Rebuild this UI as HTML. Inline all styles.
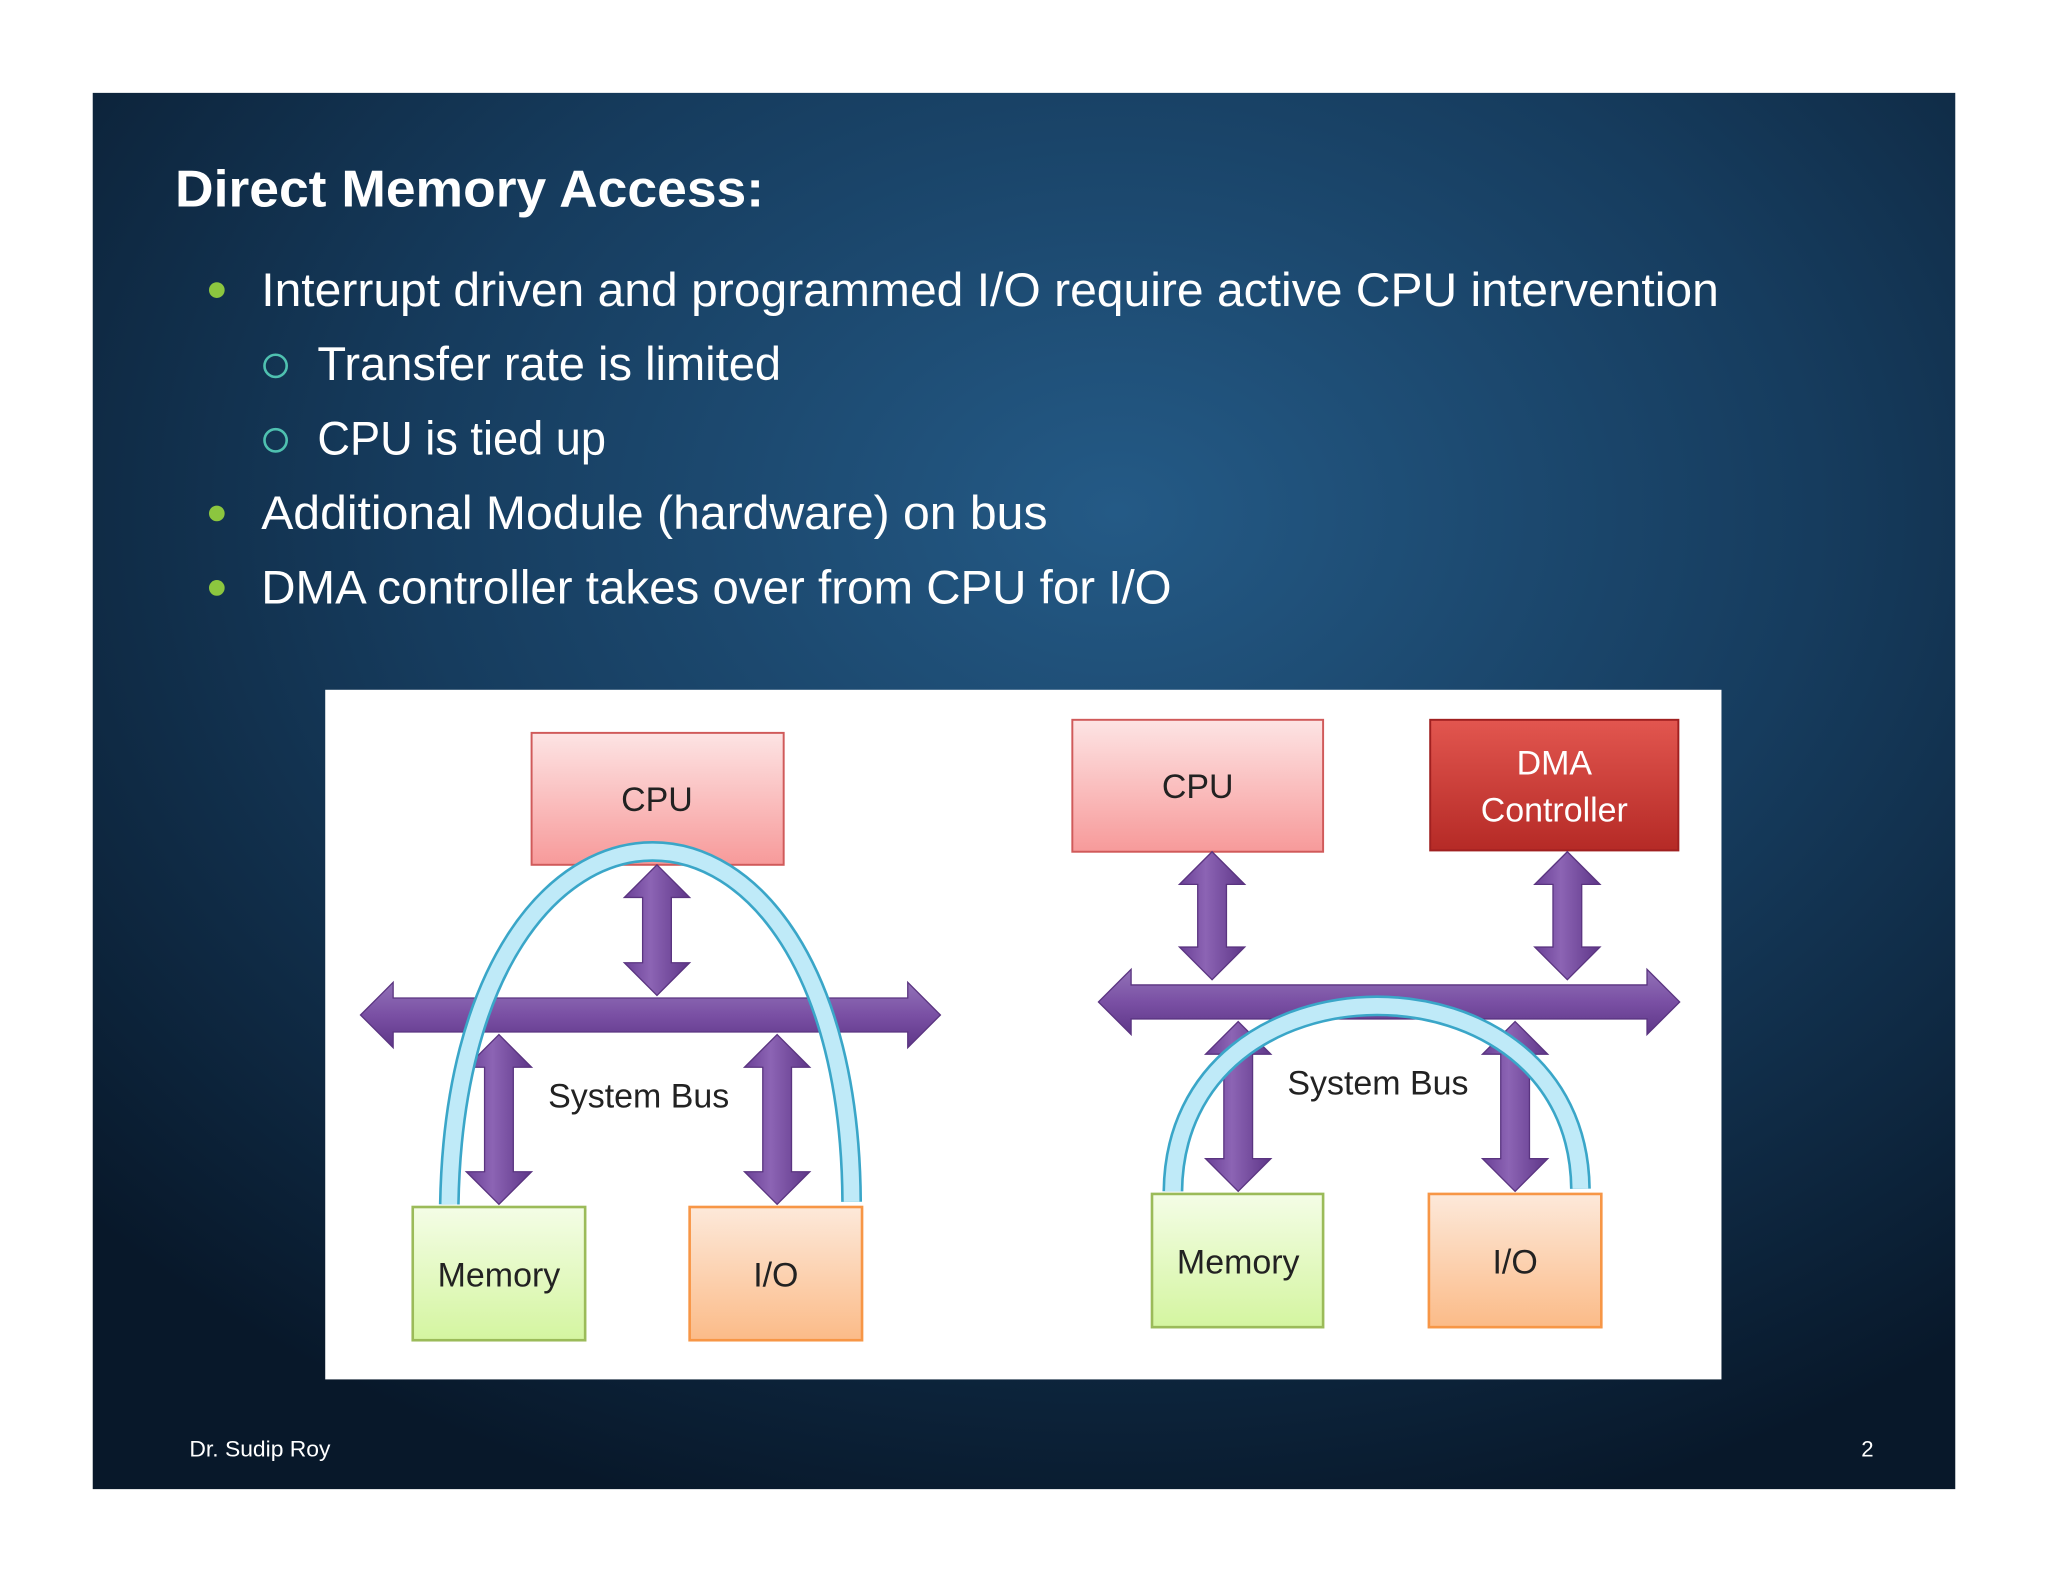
<!DOCTYPE html>
<html><head><meta charset="utf-8"><style>html,body{margin:0;padding:0;background:#fff}svg{display:block}</style></head>
<body>
<svg width="2048" height="1582" viewBox="0 0 1568 1211" xmlns="http://www.w3.org/2000/svg" font-family="'Liberation Sans', sans-serif">
<defs>
<radialGradient id="bg" cx="0.55" cy="0.3" r="0.75">
<stop offset="0" stop-color="#245a86"/><stop offset="0.5" stop-color="#163c5e"/><stop offset="1" stop-color="#08182a"/></radialGradient>
<linearGradient id="pink" x1="0" y1="0" x2="0" y2="1"><stop offset="0" stop-color="#fde4e4"/><stop offset="1" stop-color="#f79a9a"/></linearGradient>
<linearGradient id="red" x1="0" y1="0" x2="0" y2="1"><stop offset="0" stop-color="#e2564f"/><stop offset="1" stop-color="#b52a26"/></linearGradient>
<linearGradient id="green" x1="0" y1="0" x2="0" y2="1"><stop offset="0" stop-color="#f4fde6"/><stop offset="1" stop-color="#d4f5a0"/></linearGradient>
<linearGradient id="orange" x1="0" y1="0" x2="0" y2="1"><stop offset="0" stop-color="#fde9da"/><stop offset="1" stop-color="#fbbb88"/></linearGradient>
<linearGradient id="pv" x1="0" y1="0" x2="1" y2="0"><stop offset="0" stop-color="#6a4096"/><stop offset="0.4" stop-color="#8c64b4"/><stop offset="1" stop-color="#5e3688"/></linearGradient>
<linearGradient id="ph" x1="0" y1="0" x2="0" y2="1"><stop offset="0" stop-color="#9272b8"/><stop offset="0.5" stop-color="#7a50a4"/><stop offset="1" stop-color="#5e3688"/></linearGradient>
</defs>
<rect x="71" y="71" width="1426" height="1069" fill="url(#bg)"/>
<text x="134" y="158" font-size="40" font-weight="bold" fill="#fff" textLength="451" lengthAdjust="spacingAndGlyphs">Direct Memory Access:</text>
<g fill="#8cc63f"><circle cx="166" cy="222" r="6"/><circle cx="166" cy="393" r="6"/><circle cx="166" cy="450" r="6"/></g>
<g fill="none" stroke="#4fc1b0" stroke-width="2"><circle cx="211" cy="280" r="8.5"/><circle cx="211" cy="337" r="8.5"/></g>
<g fill="#fff" font-size="36">
<text x="200" y="234" textLength="1116" lengthAdjust="spacingAndGlyphs">Interrupt driven and programmed I/O require active CPU intervention</text>
<text x="243" y="291" textLength="355" lengthAdjust="spacingAndGlyphs">Transfer rate is limited</text>
<text x="243" y="348" textLength="221" lengthAdjust="spacingAndGlyphs">CPU is tied up</text>
<text x="200" y="405" textLength="602" lengthAdjust="spacingAndGlyphs">Additional Module (hardware) on bus</text>
<text x="200" y="462" textLength="697" lengthAdjust="spacingAndGlyphs">DMA controller takes over from CPU for I/O</text>
</g>
<text x="145" y="1115" font-size="17" fill="#fff" textLength="108" lengthAdjust="spacingAndGlyphs">Dr. Sudip Roy</text>
<text x="1425" y="1115" font-size="17" fill="#fff">2</text>
<rect x="249" y="528" width="1069" height="528" fill="#fff"/>
<!-- left -->
<rect x="407" y="561" width="193" height="101" fill="url(#pink)" stroke="#d05a5a" stroke-width="1.5"/>
<rect x="316" y="924" width="132" height="102" fill="url(#green)" stroke="#9bbb59" stroke-width="2"/>
<rect x="528" y="924" width="132" height="102" fill="url(#orange)" stroke="#f79646" stroke-width="2"/>
<g stroke="#5a3480" stroke-width="1">
<polygon fill="url(#pv)" points="503,662 528,687 514,687 514,737 528,737 503,762 478,737 492,737 492,687 478,687"/>
<polygon fill="url(#ph)" points="276,777 301,752 301,764 695,764 695,752 720,777 695,802 695,790 301,790 301,802"/>
<polygon fill="url(#pv)" points="382,792 407,817 393,817 393,897 407,897 382,922 357,897 371,897 371,817 357,817"/>
<polygon fill="url(#pv)" points="595,792 620,817 606,817 606,897 620,897 595,922 570,897 584,897 584,817 570,817"/>
</g>
<path d="M344,922 C350,562 650,562 652,920" fill="none" stroke="#3aa6c8" stroke-width="16"/>
<path d="M344,922 C350,562 650,562 652,920" fill="none" stroke="#bfeaf8" stroke-width="12"/>
<g font-size="26" fill="#222" text-anchor="middle">
<text x="503" y="621">CPU</text>
<text x="382" y="985">Memory</text>
<text x="594" y="985">I/O</text>
<text x="489" y="848">System Bus</text>
</g>
<!-- right -->
<rect x="821" y="551" width="192" height="101" fill="url(#pink)" stroke="#d05a5a" stroke-width="1.5"/>
<rect x="1095" y="551" width="190" height="100" fill="url(#red)" stroke="#a02020" stroke-width="1.5"/>
<rect x="882" y="914" width="131" height="102" fill="url(#green)" stroke="#9bbb59" stroke-width="2"/>
<rect x="1094" y="914" width="132" height="102" fill="url(#orange)" stroke="#f79646" stroke-width="2"/>
<g stroke="#5a3480" stroke-width="1">
<polygon fill="url(#pv)" points="928,652 953,677 939,677 939,725 953,725 928,750 903,725 917,725 917,677 903,677"/>
<polygon fill="url(#pv)" points="1200,652 1225,677 1211,677 1211,725 1225,725 1200,750 1175,725 1189,725 1189,677 1175,677"/>
<polygon fill="url(#ph)" points="841,767 866,742 866,754 1261,754 1261,742 1286,767 1261,792 1261,780 866,780 866,792"/>
<polygon fill="url(#pv)" points="948,782 973,807 959,807 959,887 973,887 948,912 923,887 937,887 937,807 923,807"/>
<polygon fill="url(#pv)" points="1160,782 1185,807 1171,807 1171,887 1185,887 1160,912 1135,887 1149,887 1149,807 1135,807"/>
</g>
<path d="M898,912 C900,723 1208,723 1210,910" fill="none" stroke="#3aa6c8" stroke-width="16"/>
<path d="M898,912 C900,723 1208,723 1210,910" fill="none" stroke="#bfeaf8" stroke-width="12"/>
<g font-size="26" fill="#222" text-anchor="middle">
<text x="917" y="611">CPU</text>
<text x="948" y="975">Memory</text>
<text x="1160" y="975">I/O</text>
<text x="1055" y="838">System Bus</text>
<text x="1190" y="593" fill="#fff">DMA</text>
<text x="1190" y="629" fill="#fff">Controller</text>
</g>
</svg>
</body></html>
